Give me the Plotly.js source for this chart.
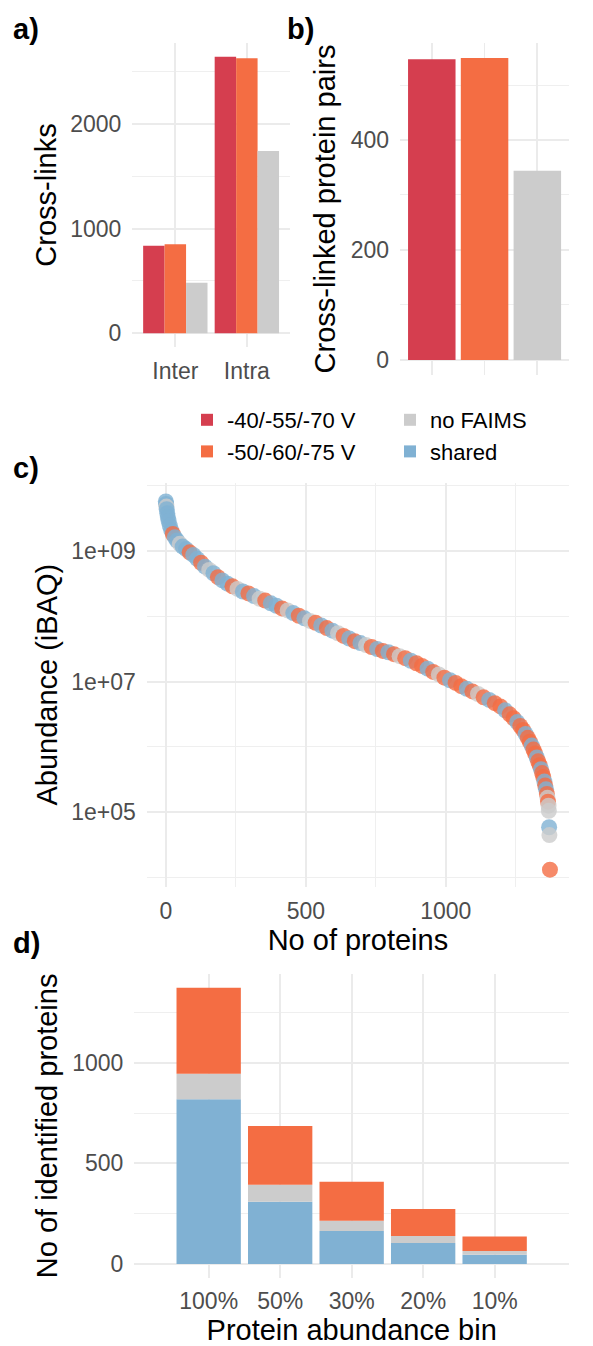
<!DOCTYPE html>
<html>
<head>
<meta charset="utf-8">
<script src="https://cdn.plot.ly/plotly-3.0.1.min.js"></script>
<style>
  html, body { margin: 0; padding: 0; background: #ffffff; overflow: hidden; width: 593px; height: 1346px; }
  #chart { width: 593px; height: 1346px; overflow: hidden; }
</style>
</head>
<body>
<div id="chart"></div>
<script>
// ---------- data ----------
// Panel a: cross-links by type
const linkTypes = ['Inter', 'Intra'];
const linksV40 = [837, 2643];     // -40/-55/-70 V
const linksV50 = [850, 2630];     // -50/-60/-75 V
const linksNoFaims = [483, 1742]; // no FAIMS

// Panel b: cross-linked protein pairs
const pairConditions = ['-40/-55/-70 V', '-50/-60/-75 V', 'no FAIMS'];
const pairCounts = [547, 549, 344];

// Panel c: protein abundance ranking
const proteinRank = [0, 1, 2, 3, 5, 7, 10, 14, 19, 25, 32, 40, 50, 60, 72, 85, 98, 112, 126, 140,
  155, 170, 186, 202, 220, 238, 256, 275, 295, 315, 335, 355, 375, 395, 415, 435, 455, 475, 495, 515,
  535, 555, 575, 595, 615, 635, 655, 675, 695, 715, 735, 755, 775, 795, 815, 835, 855, 875, 895, 915,
  935, 955, 975, 995, 1015, 1035, 1055, 1075, 1095, 1115, 1135, 1155, 1175, 1195, 1212, 1228, 1242, 1255, 1266, 1276,
  1285, 1293, 1300, 1307, 1313, 1319, 1325, 1330, 1335, 1340, 1344, 1348, 1352, 1355, 1358, 1361, 1363, 1365, 1367, 1368,
  1369, 1370, 1372];
const proteinAbundance = [5.75e9, 5.25e9, 4.79e9, 4.37e9, 3.80e9, 3.31e9, 2.88e9, 2.45e9, 2.09e9, 1.82e9, 1.62e9, 1.45e9, 1.29e9, 1.17e9, 1.07e9, 9.55e8, 8.71e8, 7.59e8, 6.61e8, 5.75e8,
  5.13e8, 4.57e8, 3.98e8, 3.55e8, 3.16e8, 2.88e8, 2.63e8, 2.40e8, 2.24e8, 2.04e8, 1.86e8, 1.74e8, 1.58e8, 1.45e8, 1.32e8, 1.23e8, 1.12e8, 1.02e8, 9.33e7, 8.51e7,
  7.94e7, 7.24e7, 6.61e7, 6.03e7, 5.50e7, 5.01e7, 4.57e7, 4.17e7, 3.89e7, 3.63e7, 3.39e7, 3.16e7, 2.95e7, 2.82e7, 2.63e7, 2.45e7, 2.29e7, 2.09e7, 1.91e7, 1.74e7,
  1.58e7, 1.41e7, 1.29e7, 1.15e7, 1.05e7, 9.55e6, 8.51e6, 7.76e6, 7.08e6, 6.46e6, 5.75e6, 5.25e6, 4.68e6, 4.17e6, 3.63e6, 3.16e6, 2.75e6, 2.40e6, 2.09e6, 1.82e6,
  1.58e6, 1.38e6, 1.20e6, 1.05e6, 9.12e5, 7.94e5, 6.92e5, 6.03e5, 5.25e5, 4.57e5, 3.98e5, 3.47e5, 2.95e5, 2.57e5, 2.24e5, 1.91e5, 1.66e5, 1.45e5, 1.26e5, 1.05e5,
  5.89e4, 4.47e4, 1.32e4];
// S = shared, G = no FAIMS, O = -50/-60/-75 V
const proteinGroup = ['S','S','G','S','S','S','S','S','S','O','S','S','G','S','S','O','S','S','O','S',
  'G','S','O','S','S','O','G','S','O','S','G','O','S','S','O','G','S','O','S','G',
  'O','S','O','S','G','O','S','O','S','G','O','S','O','S','O','G','O','S','O','O',
  'S','O','G','O','S','O','O','S','O','G','O','S','O','O','S','O','O','S','O','O',
  'S','O','O','S','O','O','S','O','O','S','O','O','S','O','S','O','G','O','G','G',
  'S','G','O'];

// Panel d: identified proteins per abundance bin
const abundanceBins = ['100%', '50%', '30%', '20%', '10%'];
const binShared = [818, 309, 164, 104, 46];
const binNoFaims = [127, 85, 51, 35, 19];
const binV50 = [427, 292, 194, 134, 71];

// ---------- styling ----------
const C_RED = '#D53E4F', C_ORANGE = '#F46D43', C_GREY = '#CCCCCC', C_BLUE = '#80B1D3';
const groupColor = { S: C_BLUE, G: C_GREY, O: C_ORANGE };
const FONT = 'Liberation Sans, Arial, Helvetica, sans-serif';
const GRID = '#EBEBEB', GRID_MINOR = '#EFEFEF';
const TICKFONT = { family: FONT, size: 23, color: '#4D4D4D' };
const TITLEFONT = { family: FONT, size: 29, color: '#000000' };
const W = 593, H = 1346;
const px = v => v / W;
const py = v => 1 - v / H;

const traces = [
  { type: 'bar', x: linkTypes, y: linksV40, name: '-40/-55/-70 V', marker: { color: C_RED },
    xaxis: 'x', yaxis: 'y', legendrank: 1, hoverinfo: 'none' },
  { type: 'bar', x: linkTypes, y: linksV50, name: '-50/-60/-75 V', marker: { color: C_ORANGE },
    xaxis: 'x', yaxis: 'y', legendrank: 3, hoverinfo: 'none' },
  { type: 'bar', x: linkTypes, y: linksNoFaims, name: 'no FAIMS', marker: { color: C_GREY },
    xaxis: 'x', yaxis: 'y', legendrank: 2, hoverinfo: 'none' },
  { type: 'bar', x: pairConditions, y: pairCounts, marker: { color: [C_RED, C_ORANGE, C_GREY] },
    xaxis: 'x2', yaxis: 'y2', showlegend: false, hoverinfo: 'none' },
  { type: 'scatter', mode: 'markers', x: proteinRank, y: proteinAbundance,
    marker: { size: 16, color: proteinGroup.map(g => groupColor[g]), opacity: 0.8, line: { width: 0 } },
    xaxis: 'x3', yaxis: 'y3', showlegend: false, hoverinfo: 'none' },
  { type: 'bar', x: abundanceBins, y: binShared, name: 'shared', marker: { color: C_BLUE },
    offsetgroup: 'd', xaxis: 'x4', yaxis: 'y4', legendrank: 4, hoverinfo: 'none' },
  { type: 'bar', x: abundanceBins, y: binNoFaims, base: binShared, marker: { color: C_GREY },
    offsetgroup: 'd', xaxis: 'x4', yaxis: 'y4', showlegend: false, hoverinfo: 'none' },
  { type: 'bar', x: abundanceBins, y: binV50, base: binShared.map((v, i) => v + binNoFaims[i]),
    marker: { color: C_ORANGE }, offsetgroup: 'd', xaxis: 'x4', yaxis: 'y4', showlegend: false, hoverinfo: 'none' }
];

function axisBase(extra) {
  return Object.assign({
    showgrid: true, gridcolor: GRID, gridwidth: 1.8, zeroline: false, showline: false,
    ticks: '', tickfont: TICKFONT, fixedrange: true, ticklabelstandoff: 10
  }, extra);
}
function minorGrid(vals) {
  return { tickvals: vals, showgrid: true, gridcolor: GRID_MINOR, gridwidth: 1, ticks: '' };
}

const layout = {
  width: W, height: H, autosize: false,
  margin: { l: 0, r: 0, t: 0, b: 0, pad: 0 },
  paper_bgcolor: '#ffffff', plot_bgcolor: '#ffffff',
  font: { family: FONT, color: '#000000' },
  barmode: 'group', bargap: 0.1, bargroupgap: 0,
  showlegend: true,
  legend: {
    orientation: 'h', x: px(195), xanchor: 'left', y: py(399), yanchor: 'top',
    font: { family: FONT, size: 22, color: '#000000' },
    entrywidth: 158, entrywidthmode: 'pixels', bgcolor: 'rgba(0,0,0,0)', borderwidth: 0,
    traceorder: 'normal', itemclick: false, itemdoubleclick: false
  },
  // Panel a
  xaxis: axisBase({ domain: [px(138), px(302)], anchor: 'y', type: 'category', range: [-0.6, 1.6], ticklabelstandoff: 8 }),
  yaxis: axisBase({ domain: [py(347), py(43)], anchor: 'x', range: [-132, 2775],
    tickvals: [0, 1000, 2000], ticktext: ['0', '1000', '2000'], minor: minorGrid([500, 1500, 2500]),
    title: { text: 'Cross-links', font: TITLEFONT, standoff: 5 } }),
  // Panel b
  xaxis2: axisBase({ domain: [px(417), 1], anchor: 'y2', type: 'category', range: [-0.6, 2.6], showticklabels: false }),
  yaxis2: axisBase({ domain: [py(375), py(43)], anchor: 'x2', range: [-27.5, 576.5],
    tickvals: [0, 200, 400], ticktext: ['0', '200', '400'], minor: minorGrid([100, 300, 500]),
    title: { text: 'Cross-linked protein pairs', font: TITLEFONT, standoff: 6 } }),
  // Panel c
  xaxis3: axisBase({ domain: [px(153), 1], anchor: 'y3', range: [-68, 1440], ticklabelstandoff: 8,
    tickvals: [0, 500, 1000], ticktext: ['0', '500', '1000'], minor: minorGrid([250, 750, 1250]),
    title: { text: 'No of proteins', font: TITLEFONT, standoff: 5 } }),
  yaxis3: axisBase({ domain: [py(886.7), py(482.7)], anchor: 'x3', type: 'log', range: [3.86, 10.046],
    tickvals: [1e5, 1e7, 1e9], ticktext: ['1e+05', '1e+07', '1e+09'], minor: minorGrid([1e4, 1e6, 1e8, 1e10]),
    title: { text: 'Abundance (iBAQ)', font: TITLEFONT, standoff: 5 } }),
  // Panel d
  xaxis4: axisBase({ domain: [px(140), 1], anchor: 'y4', type: 'category', range: [-1.04, 5.04], ticklabelstandoff: 7,
    title: { text: 'Protein abundance bin', font: TITLEFONT, standoff: 6 } }),
  yaxis4: axisBase({ domain: [py(1277.8), py(974)], anchor: 'x4', range: [-68.6, 1440.6],
    tickvals: [0, 500, 1000], ticktext: ['0', '500', '1000'], minor: minorGrid([250, 750, 1250]),
    title: { text: 'No of identified proteins', font: TITLEFONT, standoff: 6 } }),
  annotations: [
    { text: '<b>a)</b>', x: px(11), y: py(29), xref: 'paper', yref: 'paper', xanchor: 'left', yanchor: 'middle', showarrow: false, font: { family: FONT, size: 29, color: '#000' } },
    { text: '<b>b)</b>', x: px(297), y: py(29), xref: 'paper', yref: 'paper', xanchor: 'left', yanchor: 'middle', showarrow: false, font: { family: FONT, size: 29, color: '#000' } },
    { text: '<b>c)</b>', x: px(11), y: py(468), xref: 'paper', yref: 'paper', xanchor: 'left', yanchor: 'middle', showarrow: false, font: { family: FONT, size: 29, color: '#000' } },
    { text: '<b>d)</b>', x: px(11), y: py(943), xref: 'paper', yref: 'paper', xanchor: 'left', yanchor: 'middle', showarrow: false, font: { family: FONT, size: 29, color: '#000' } }
  ]
};

Plotly.newPlot('chart', traces, layout, { displayModeBar: false, staticPlot: true });
</script>
</body>
</html>
